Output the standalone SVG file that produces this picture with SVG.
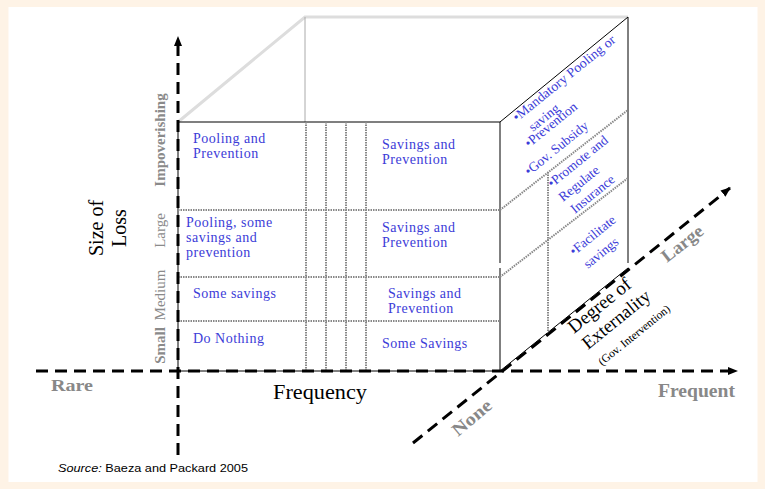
<svg xmlns="http://www.w3.org/2000/svg" width="765" height="489" viewBox="0 0 765 489">
<defs>
<style>
.axis{stroke:#000;stroke-width:3;stroke-dasharray:12 7;fill:none}
.edge{stroke:#000;stroke-width:1;fill:none}
.dot{stroke:#888;stroke-width:2;stroke-dasharray:1.5 1;fill:none}
.cell{font-family:"Liberation Serif","Times New Roman",serif;font-size:14px;fill:#3c3cd8;letter-spacing:0.5px}
.side{font-family:"Liberation Serif","Times New Roman",serif;font-size:13.5px;fill:#3c3cd8}
.lvl{font-family:"Liberation Serif","Times New Roman",serif;font-size:15px;fill:#8a8a8a}
.glab{font-family:"Liberation Serif","Times New Roman",serif;font-weight:bold;fill:#888}
.blk{font-family:"Liberation Serif","Times New Roman",serif;fill:#000}
</style>
<marker id="arr" viewBox="0 0 10 10" refX="9" refY="5" markerWidth="10" markerHeight="10" markerUnits="userSpaceOnUse" orient="auto">
<path d="M0,1 L10,5 L0,9 z" fill="#000"/>
</marker>
</defs>
<rect x="0" y="0" width="765" height="489" fill="#fef3e6"/>
<rect x="8.5" y="7" width="749" height="475" fill="#fff"/>

<g id="box">
<path d="M178,122 L305,17 L628,17" stroke="#ddd" stroke-width="3" fill="none"/>
<line x1="305" y1="17" x2="305" y2="122" stroke="#aaa" stroke-width="1"/>
<rect x="178" y="122" width="322" height="249" class="edge"/>
<line x1="500" y1="122" x2="628" y2="17" class="edge"/>
<line x1="628" y1="17" x2="628" y2="263" class="edge"/>
<line x1="500" y1="371" x2="628" y2="268" class="edge"/>
<g class="dot">
<line x1="178" y1="210" x2="500" y2="210"/>
<line x1="178" y1="277" x2="500" y2="277"/>
<line x1="178" y1="321" x2="500" y2="321"/>
<line x1="306" y1="122" x2="306" y2="371"/>
<line x1="326" y1="122" x2="326" y2="371"/>
<line x1="346" y1="122" x2="346" y2="371"/>
<line x1="366" y1="122" x2="366" y2="371"/>
<line x1="500" y1="210" x2="628" y2="110"/>
<line x1="500" y1="277" x2="628" y2="178"/>
<line x1="548" y1="172" x2="548" y2="333"/>
</g>
<rect x="497" y="263" width="6" height="5" fill="#fff"/>
</g>

<g id="connectors">
<line x1="178" y1="455" x2="178" y2="37" class="axis" marker-end="url(#arr)"/>
<line x1="36" y1="371" x2="737" y2="371" class="axis" marker-end="url(#arr)"/>
<line x1="413" y1="443" x2="730" y2="188" class="axis" marker-end="url(#arr)"/>
</g>

<g id="cell-impov-rare" class="cell"><text x="193" y="143">Pooling and</text><text x="193" y="158">Prevention</text></g>
<g id="cell-impov-freq" class="cell"><text x="382" y="149">Savings and</text><text x="382" y="164">Prevention</text></g>
<g id="cell-large-rare" class="cell"><text x="186" y="227">Pooling, some</text><text x="186" y="242">savings and</text><text x="186" y="257">prevention</text></g>
<g id="cell-large-freq" class="cell"><text x="382" y="232">Savings and</text><text x="382" y="247">Prevention</text></g>
<g id="cell-medium-rare" class="cell"><text x="193" y="298">Some savings</text></g>
<g id="cell-medium-freq" class="cell"><text x="388" y="298">Savings and</text><text x="388" y="313">Prevention</text></g>
<g id="cell-small-rare" class="cell"><text x="193" y="343">Do Nothing</text></g>
<g id="cell-small-freq" class="cell"><text x="382" y="348">Some Savings</text></g>

<g id="side-high" class="side">
<text transform="translate(517,122) rotate(-39)" textLength="128" lengthAdjust="spacingAndGlyphs">•Mandatory Pooling or</text>
<text transform="translate(533,132) rotate(-39)">saving</text>
<text transform="translate(529,148) rotate(-39)">•Prevention</text>
<text transform="translate(529,176) rotate(-39)">•Gov. Subsidy</text>
</g>
<g id="side-mid" class="side">
<text transform="translate(552,188) rotate(-39)">•Promote and</text>
<text transform="translate(563,202) rotate(-39)">Regulate</text>
<text transform="translate(575,214) rotate(-39)">Insurance</text>
</g>
<g id="side-low" class="side">
<text transform="translate(574,256) rotate(-39)">•Facilitate</text>
<text transform="translate(588,269) rotate(-39)">savings</text>
</g>

<g id="size-levels" class="lvl">
<text transform="translate(165,140) rotate(-90)" text-anchor="middle" font-weight="bold">Impoverishing</text>
<text transform="translate(165,230.5) rotate(-90)" text-anchor="middle">Large</text>
<text transform="translate(165,295) rotate(-90)" text-anchor="middle">Medium</text>
<text transform="translate(165,345.5) rotate(-90)" text-anchor="middle" font-weight="bold">Small</text>
</g>
<g id="size-title" class="blk" font-size="20">
<text transform="translate(103,228) rotate(-90)" text-anchor="middle">Size of</text>
<text transform="translate(126,228) rotate(-90)" text-anchor="middle">Loss</text>
</g>

<g id="freq-labels">
<text x="51" y="391" class="glab" font-size="17" textLength="42" lengthAdjust="spacingAndGlyphs">Rare</text>
<text x="273" y="399" class="blk" font-size="20" textLength="94" lengthAdjust="spacingAndGlyphs">Frequency</text>
<text x="658" y="397" class="glab" font-size="18" textLength="77" lengthAdjust="spacingAndGlyphs">Frequent</text>
</g>

<g id="ext-labels">
<text transform="translate(458,437) rotate(-40)" class="glab" font-size="18" textLength="46" lengthAdjust="spacingAndGlyphs">None</text>
<text transform="translate(667,263) rotate(-38)" class="glab" font-size="18" textLength="48" lengthAdjust="spacingAndGlyphs">Large</text>
<text transform="translate(574,334) rotate(-39)" class="blk" font-size="19">Degree of</text>
<text transform="translate(588,350) rotate(-39)" class="blk" font-size="18.5">Externality</text>
<text transform="translate(602,366) rotate(-39)" class="blk" font-size="11.5">(Gov. Intervention)</text>
</g>

<g id="source">
<text x="58" y="472" font-family="'Liberation Sans',Arial,sans-serif" font-size="11.5" fill="#000" textLength="190" lengthAdjust="spacingAndGlyphs"><tspan font-style="italic">Source:</tspan> Baeza and Packard 2005</text>
</g>
</svg>
